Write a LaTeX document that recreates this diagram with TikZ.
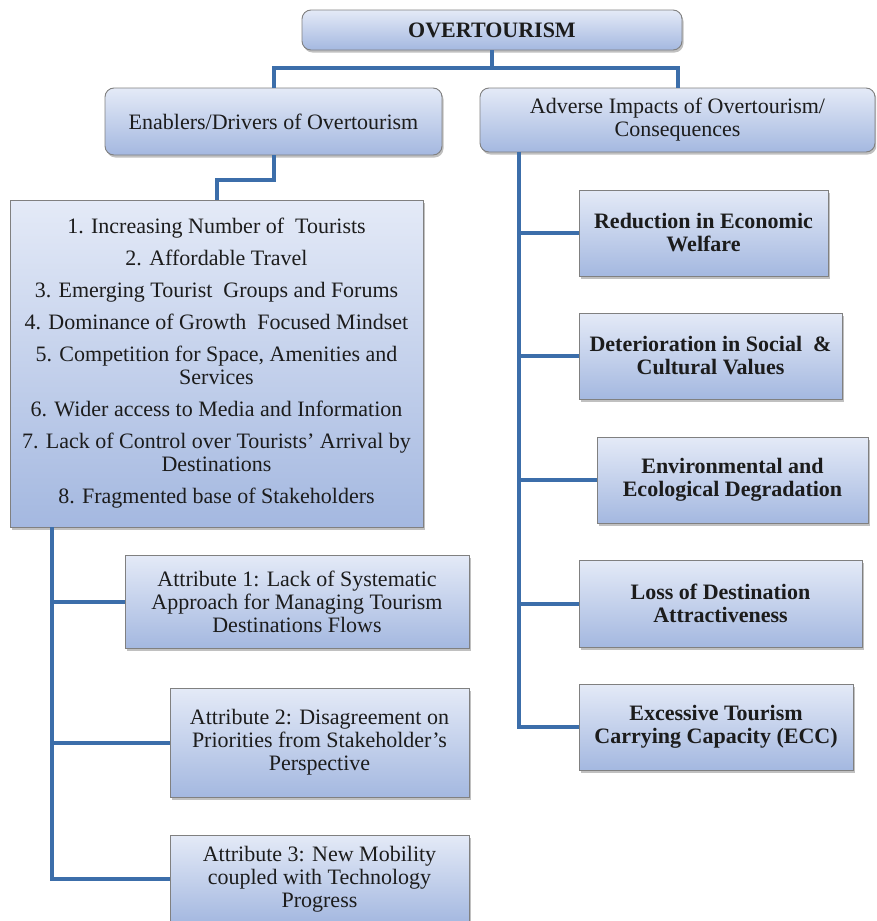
\documentclass[tikz,border=0pt]{standalone}
\usepackage{fontspec}
\setmainfont{Liberation Serif}
\usetikzlibrary{shadows}
\definecolor{boxtop}{RGB}{228,234,247}
\definecolor{boxbot}{RGB}{164,184,224}
\definecolor{boxline}{RGB}{128,128,128}
\definecolor{linkblue}{RGB}{60,110,170}
\definecolor{txt}{RGB}{28,28,28}
\tikzset{
  box/.style={draw=boxline, line width=0.9pt, top color=boxtop, bottom color=boxbot,
    drop shadow={shadow xshift=1.5pt, shadow yshift=-2.5pt, opacity=0.35, fill=black!70},
    align=center, text=txt, inner sep=0pt,
    font=\fontsize{22}{23}\selectfont},
  rbox/.style={box, rounded corners=9pt},
  link/.style={draw=linkblue, line width=4pt},
}
\begin{document}
\begin{tikzpicture}[x=1pt, y=-1pt]
  \fill[white] (0,0) rectangle (876,921);
  \useasboundingbox (0,0) rectangle (876,921);
  \clip (0,0) rectangle (876,921);

  % header and the two main branches
  \node[rbox, minimum width=380pt, minimum height=40pt] (top) at (492,30)
    {\textbf{OVERTOURISM}};
  \node[rbox, minimum width=337pt, minimum height=67pt] (enab) at (273.5,121.5)
    {Enablers/Drivers of Overtourism};
  \node[rbox, minimum width=395pt, minimum height=64pt] (adv) at (677.5,120)
    {Adverse Impacts of Overtourism/\\Consequences};

  % list of drivers
  \node[box, minimum width=413pt, minimum height=327pt] (list) at (216.5,363.5)
    {1. Increasing Number of\ \ Tourists\\[9pt]
     2. Affordable Travel\\[9pt]
     3. Emerging Tourist\ \ Groups and Forums\\[9pt]
     4. Dominance of Growth\ \ Focused Mindset\\[9pt]
     5. Competition for Space, Amenities and\\Services\\[9pt]
     6. Wider access to Media and Information\\[9pt]
     7. Lack of Control over Tourists’ Arrival by\\Destinations\\[9pt]
     8. Fragmented base of Stakeholders};

  % attributes
  \node[box, minimum width=344pt, minimum height=93pt] (a1) at (297,601.5)
    {Attribute 1: Lack of Systematic\\Approach for Managing Tourism\\Destinations Flows};
  \node[box, minimum width=299pt, minimum height=109pt] (a2) at (319.5,742.5)
    {Attribute 2: Disagreement on\\Priorities from Stakeholder’s\\Perspective};
  \node[box, minimum width=299pt, minimum height=88pt] (a3) at (319.5,879)
    {Attribute 3: New Mobility\\coupled with Technology\\Progress};

  % consequences
  \node[box, minimum width=249pt, minimum height=86pt] (r1) at (703.5,233)
    {\textbf{Reduction in Economic}\\\textbf{Welfare}};
  \node[box, minimum width=263pt, minimum height=86pt] (r2) at (710.5,356)
    {\textbf{Deterioration in Social\ \ \&}\\\textbf{Cultural Values}};
  \node[box, minimum width=271pt, minimum height=86pt] (r3) at (732.5,480)
    {\textbf{Environmental and}\\\textbf{Ecological Degradation}};
  \node[box, minimum width=283pt, minimum height=87pt] (r4) at (720.5,603.5)
    {\textbf{Loss of Destination}\\\textbf{Attractiveness}};
  \node[box, minimum width=274pt, minimum height=86pt] (r5) at (716,727)
    {\textbf{Excessive Tourism}\\\textbf{Carrying Capacity (ECC)}};

  % connectors
  \coordinate (hub) at ([yshift=-18pt]top.south);
  \draw[link] (top.south) -- (hub);
  \draw[link] (enab.north) |- (hub) -| (adv.north);
  \draw[link] (enab.south) -- ++(0,25) -| (list.north);

  \coordinate (lt) at ([xshift=42pt]list.south west);
  \draw[link] (lt) |- (a3.west);
  \draw[link] (a1.west) -- (a1.west -| lt);
  \draw[link] (a2.west) -- (a2.west -| lt);

  \coordinate (rt) at ([xshift=39pt]adv.south west);
  \draw[link] (rt) |- (r5.west);
  \draw[link] (r1.west) -- (r1.west -| rt);
  \draw[link] (r2.west) -- (r2.west -| rt);
  \draw[link] (r3.west) -- (r3.west -| rt);
  \draw[link] (r4.west) -- (r4.west -| rt);
\end{tikzpicture}
\end{document}
